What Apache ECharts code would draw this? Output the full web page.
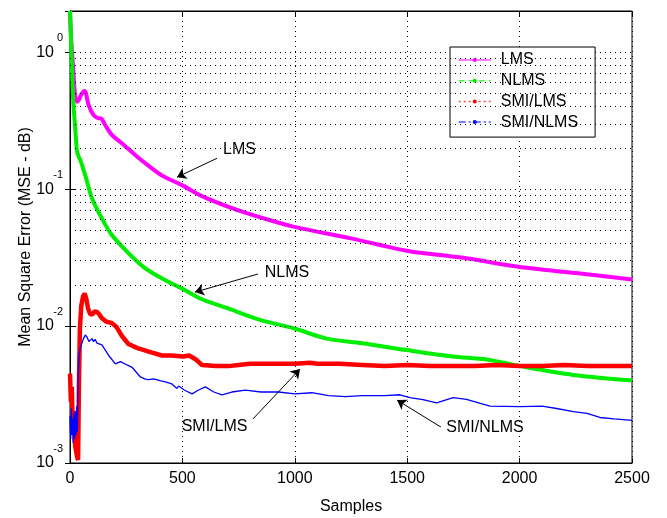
<!DOCTYPE html>
<html><head><meta charset="utf-8">
<script src="https://cdn.jsdelivr.net/npm/echarts@6/dist/echarts.min.js"></script>
<style>html,body{margin:0;padding:0;background:#fff}#c{width:667px;height:518px}</style>
</head><body><div id="c"></div>
<script>
// ---- data ----
const seriesNames = ['LMS', 'NLMS', 'SMI/LMS', 'SMI/NLMS'];

const lmsSamples = [0, 4, 9, 16, 22, 31, 40, 50, 65, 83, 105, 125, 139, 157, 187, 224, 291, 350, 409, 498, 587, 727, 850, 998, 1250, 1498, 1750, 1994, 2250, 2500];
const lmsMSE     = [2.0, 1.35, 1.0, 0.68, 0.5, 0.434, 0.45, 0.49, 0.52, 0.41, 0.347, 0.33, 0.328, 0.293, 0.248, 0.221, 0.177, 0.148, 0.126, 0.107, 0.089, 0.072, 0.062, 0.053, 0.0437, 0.0355, 0.0315, 0.0271, 0.0244, 0.0219];

const nlmsSamples = [0, 3, 6, 9, 14, 21, 27, 31, 40, 46, 68, 98, 142, 187, 261, 335, 409, 498, 587, 700, 845, 998, 1142, 1300, 1498, 1700, 1853, 2002, 2239, 2500];
const nlmsMSE     = [2.0, 1.5, 1.0, 0.72, 0.45, 0.31, 0.228, 0.19, 0.17, 0.163, 0.126, 0.0855, 0.061, 0.046, 0.034, 0.0264, 0.0223, 0.0188, 0.0157, 0.0135, 0.0111, 0.0096, 0.0081, 0.0075, 0.00668, 0.0060, 0.0057, 0.0051, 0.0044, 0.0040];

const smiLmsSamples = [0, 4, 8, 12, 16, 20, 24, 28, 32, 36, 40, 44, 50, 58, 65, 72, 80, 90, 100, 110, 120, 130, 140, 160, 187, 208, 230, 260, 300, 326, 350, 409, 450, 503, 530, 560, 587, 650, 706, 750, 800, 854, 900, 1000, 1067, 1100, 1200, 1300, 1400, 1500, 1600, 1700, 1800, 1900, 2000, 2100, 2200, 2300, 2400, 2500];
const smiLmsMSE     = [0.0045, 0.0028, 0.0036, 0.0019, 0.0024, 0.0015, 0.0013, 0.0012, 0.0011, 0.00105, 0.004, 0.0095, 0.014, 0.0165, 0.0173, 0.016, 0.0135, 0.0122, 0.0122, 0.0128, 0.0127, 0.0122, 0.0115, 0.0108, 0.0105, 0.0098, 0.0085, 0.0074, 0.0069, 0.0067, 0.0065, 0.0061, 0.0061, 0.0060, 0.0061, 0.0057, 0.0052, 0.0051, 0.0051, 0.0052, 0.0053, 0.0053, 0.0053, 0.0053, 0.0054, 0.0053, 0.0053, 0.0052, 0.0051, 0.0052, 0.0051, 0.0051, 0.0051, 0.0052, 0.0051, 0.0051, 0.0052, 0.0051, 0.0051, 0.0051];

const smiNlmsSamples = [0, 3, 6, 9, 12, 15, 18, 21, 24, 27, 30, 33, 36, 40, 45, 53, 60, 68, 76, 84, 90, 98, 105, 112, 120, 142, 172, 202, 224, 254, 276, 295, 313, 335, 350, 372, 400, 424, 450, 476, 483, 510, 543, 570, 602, 640, 676, 720, 780, 850, 928, 1000, 1076, 1150, 1225, 1300, 1400, 1468, 1512, 1570, 1631, 1704, 1764, 1868, 2002, 2100, 2165, 2239, 2300, 2357, 2420, 2500];
const smiNlmsMSE     = [0.0022, 0.0015, 0.0025, 0.0016, 0.0021, 0.0014, 0.0023, 0.0015, 0.0024, 0.0016, 0.0026, 0.0017, 0.0042, 0.006, 0.0068, 0.0075, 0.0081, 0.0086, 0.0083, 0.0077, 0.0079, 0.0081, 0.0077, 0.0080, 0.0075, 0.0073, 0.0061, 0.0053, 0.0055, 0.0052, 0.0050, 0.0046, 0.00425, 0.0041, 0.00406, 0.00412, 0.0040, 0.00391, 0.0038, 0.0035, 0.00365, 0.0034, 0.0032, 0.0034, 0.0036, 0.0033, 0.00315, 0.0033, 0.0034, 0.0033, 0.0033, 0.0032, 0.00326, 0.0031, 0.00305, 0.0031, 0.0031, 0.00315, 0.0030, 0.0029, 0.00275, 0.0030, 0.00292, 0.0026, 0.00258, 0.0026, 0.0025, 0.00237, 0.0023, 0.00215, 0.0021, 0.00205];

const minorGridValues = [];
for (const d of [0.001, 0.01, 0.1]) for (let k = 2; k <= 9; k++) minorGridValues.push(+(d * k).toPrecision(3));

const annotations = [
  { text: 'LMS',      from: [654, 0.168],   to: [476, 0.1224],  at: [754, 0.193] },
  { text: 'NLMS',     from: [836, 0.0240],  to: [556, 0.0177],  at: [965, 0.0244] },
  { text: 'SMI/LMS',  from: [814, 0.00210], to: [1023, 0.00485], at: [643, 0.00183] },
  { text: 'SMI/NLMS', from: [1650, 0.00183], to: [1455, 0.00288], at: [1846, 0.00180] }
];

// ---- chart ----
const FONT = 'Liberation Sans, Arial, sans-serif';
const zip = (xs, ys) => xs.map((x, i) => [x, ys[i]]);
const colors = ['#ff00ff', '#00ee00', '#ff0000', '#0000ff'];
const widths = [4, 4, 4.5, 1.3];
const legendDash = ['solid', [6, 4], [2, 3], [7, 3, 2, 3]];
const seriesData = [zip(lmsSamples, lmsMSE), zip(nlmsSamples, nlmsMSE), zip(smiLmsSamples, smiLmsMSE), zip(smiNlmsSamples, smiNlmsMSE)];

const gridDot = { type: [1, 4], color: '#000', width: 1 };

const chart = echarts.init(document.getElementById('c'), null, { renderer: 'canvas' });
const series = seriesNames.map((name, i) => ({
  name, type: 'line', data: seriesData[i], showSymbol: false, symbol: 'circle', symbolSize: 3,
  smooth: (i < 2) ? 0.3 : false, z: 3,
  lineStyle: { color: colors[i], width: widths[i] }, itemStyle: { color: colors[i] }
}));
series.push({
  name: 'minor', type: 'line', data: [], z: 1, silent: true,
  markLine: { silent: true, symbol: ['none', 'none'], label: { show: false }, lineStyle: gridDot, animation: false,
    data: minorGridValues.map(v => ({ yAxis: v })) }
});
series.push({
  name: 'annot', type: 'line', data: [], z: 5, silent: true,
  markLine: { silent: true, symbol: ['none', 'arrow'], symbolSize: 9, label: { show: false }, animation: false,
    lineStyle: { type: 'solid', color: '#000', width: 1 },
    data: annotations.map(a => [{ coord: a.from }, { coord: a.to }]) },
  markPoint: { silent: true, animation: false, symbol: 'circle', symbolSize: 0,
    label: { show: true, position: 'inside', color: '#000', fontSize: 16, fontFamily: FONT },
    data: annotations.map(a => ({ coord: a.at, value: a.text, label: { formatter: a.text } })) }
});

chart.setOption({
  animation: false,
  backgroundColor: '#fff',
  grid: { left: 70, right: 35, top: 11, bottom: 55, outerBoundsMode: 'none', containLabel: false,
    show: true, borderColor: '#000', borderWidth: 1, backgroundColor: 'transparent' },
  legend: {
    orient: 'vertical', left: 450, top: 47,
    backgroundColor: '#fff', borderColor: '#000', borderWidth: 1, borderRadius: 0,
    padding: [5, 17, 7, 8], itemWidth: 32, itemHeight: 5, itemGap: 4.7,
    textStyle: { fontSize: 16, fontFamily: FONT, color: '#000', lineHeight: 16, padding: [0, 0, 0, 5] },
    data: seriesNames.map((n, i) => ({ name: n, lineStyle: { type: legendDash[i], width: 1.5, opacity: 0.7 }, itemStyle: { color: colors[i] } }))
  },
  xAxis: [{
    type: 'value', min: 0, max: 2500, interval: 500,
    name: 'Samples', nameLocation: 'middle', nameGap: 36, nameMoveOverlap: false,
    nameTextStyle: { fontSize: 16, fontFamily: FONT, color: '#000' },
    axisLine: { show: true, lineStyle: { color: '#000', width: 1 } },
    axisTick: { show: true, inside: true, length: 5, lineStyle: { color: '#000' } },
    axisLabel: { fontSize: 16, fontFamily: FONT, color: '#000', margin: 8, formatter: v => String(v) },
    splitLine: { show: true, lineStyle: gridDot }
  }, {
    type: 'value', min: 0, max: 2500, interval: 500, position: 'top',
    axisLine: { show: true, lineStyle: { color: '#000' } },
    axisTick: { show: true, inside: true, length: 5, lineStyle: { color: '#000' } },
    axisLabel: { show: false }, splitLine: { show: false }
  }],
  yAxis: [{
    type: 'log', logBase: 10, min: 0.001, max: 2,
    name: 'Mean Square Error (MSE - dB)', nameLocation: 'middle', nameGap: 36, nameMoveOverlap: false,
    nameTextStyle: { fontSize: 16, fontFamily: FONT, color: '#000' },
    axisLine: { show: true, lineStyle: { color: '#000', width: 1 } },
    axisTick: { show: true, inside: true, length: 5, lineStyle: { color: '#000' } },
    axisLabel: {
      margin: 7, showMaxLabel: false,
      formatter: v => {
        const l = Math.log10(v), e = Math.round(l);
        if (Math.abs(l - e) > 1e-6) return '';
        return '{b|10}{s|' + e + '}';
      },
      rich: {
        b: { fontSize: 16, fontFamily: FONT, color: '#000', lineHeight: 40, verticalAlign: 'middle' },
        s: { fontSize: 11, fontFamily: FONT, color: '#000', verticalAlign: 'top', width: 9 }
      }
    },
    splitLine: { show: true, lineStyle: gridDot }
  }, {
    type: 'log', logBase: 10, min: 0.001, max: 2, position: 'right',
    axisLine: { show: true, lineStyle: { color: '#000' } },
    axisTick: { show: true, inside: true, length: 5, lineStyle: { color: '#000' } },
    axisLabel: { show: false }, splitLine: { show: false }
  }],
  series
});
</script></body></html>
